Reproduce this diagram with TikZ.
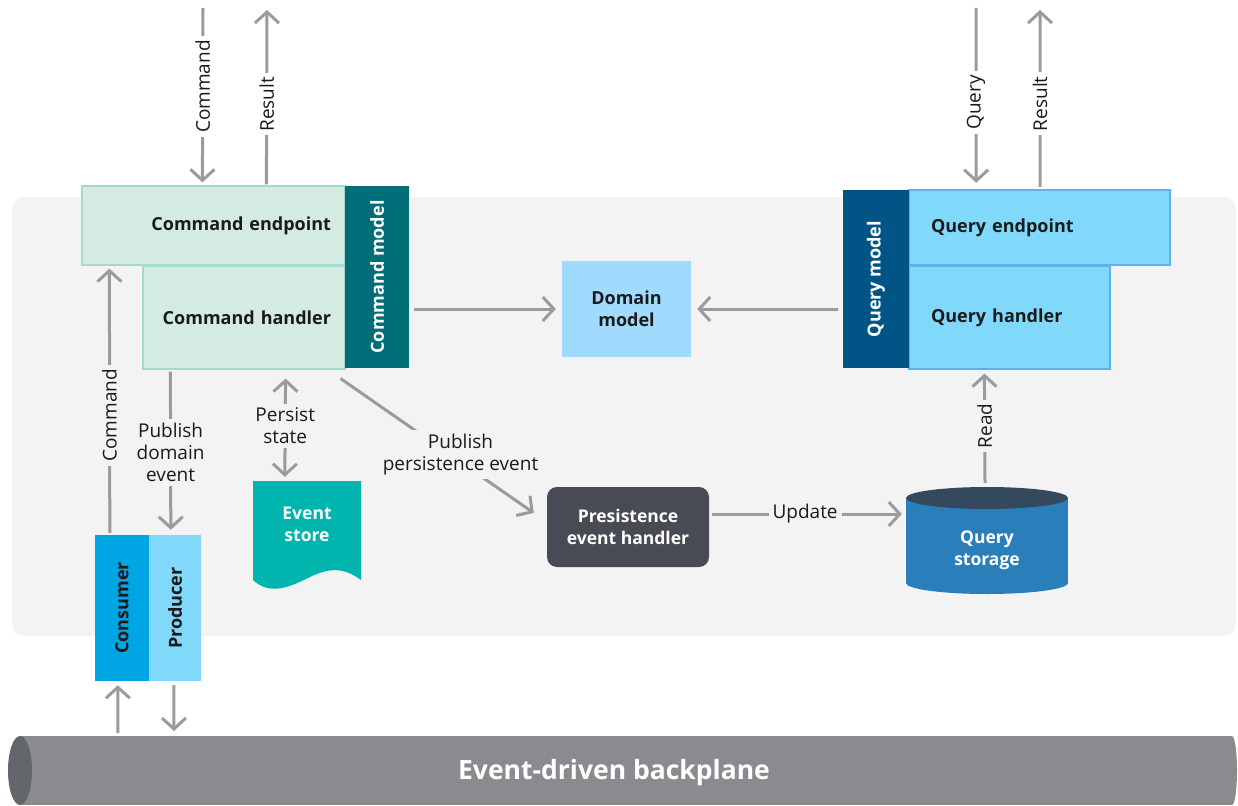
\documentclass[tikz,border=0pt]{standalone}
\usepackage{fontspec}
\setmainfont{Open Sans}
\usetikzlibrary{arrows.meta,calc}

\definecolor{panel}{HTML}{F3F3F3}
\definecolor{ink}{HTML}{1A1A1A}
\definecolor{wire}{HTML}{9B9B9E}
\definecolor{cmdfill}{HTML}{D3EBE3}
\definecolor{cmdline}{HTML}{A3DAD0}
\definecolor{cmdmodel}{HTML}{006E78}
\definecolor{qryfill}{HTML}{80D8FA}
\definecolor{qryline}{HTML}{5AB4EB}
\definecolor{qrymodel}{HTML}{005486}
\definecolor{domfill}{HTML}{A0DBFD}
\definecolor{consfill}{HTML}{00A5E4}
\definecolor{storefill}{HTML}{00B5AD}
\definecolor{handlerfill}{HTML}{484B54}
\definecolor{qsbody}{HTML}{2A7FBA}
\definecolor{qstop}{HTML}{34495E}
\definecolor{bpbody}{HTML}{898B8F}
\definecolor{bpend}{HTML}{63666B}

\newcommand\lblfont{\fontsize{19}{22}\selectfont}
\newcommand\ttlfont{\fontsize{18}{22}\selectfont\bfseries}
\newcommand\whitefont{\fontsize{17.5}{22}\selectfont\bfseries}

\begin{document}
\begin{tikzpicture}[x=1pt,y=-1pt,
  box/.style={rectangle, inner ysep=0pt, font=\ttlfont, text=ink},
  cbox/.style={box, fill=cmdfill, draw=cmdline, line width=1.2pt, inner xsep=14pt},
  qbox/.style={box, fill=qryfill, draw=qryline, line width=1.2pt, inner xsep=22pt},
  modelbox/.style={box, text=white, inner sep=0pt},
  conn/.style={draw=wire, line width=3pt, -{Straight Barb[length=11pt,width=24pt]}},
  lbl/.style={fill=panel, inner sep=4pt, font=\lblfont, text=ink, align=center},
  vlbl/.style={lbl, rotate=90},
]
\useasboundingbox (0,0) rectangle (1238,805);

% shared background panel
\fill[panel, rounded corners=12pt] (12,197) rectangle (1236,636);

% ---- command side ----
\node[cbox, minimum width=263pt, minimum height=79pt, text width=235pt, align=right]
  (ce) at (213.5,225.5) {Command endpoint};
\node[cbox, minimum width=202pt, minimum height=103pt, text width=174pt, align=right]
  (ch) at (244,317.5) {Command handler};
\node[modelbox, fill=cmdmodel, minimum width=64pt, minimum height=182pt]
  (cm) at (377,277) {\rotatebox{90}{Command model}};

% ---- query side ----
\node[qbox, minimum width=261pt, minimum height=75pt, text width=217pt, align=left]
  (qe) at (1039.5,227.5) {Query endpoint};
\node[qbox, minimum width=201pt, minimum height=103pt, text width=157pt, align=left]
  (qh) at (1009.5,317.5) {Query handler};
\node[modelbox, fill=qrymodel, minimum width=66pt, minimum height=178pt]
  (qm) at (876,279) {\rotatebox{90}{Query model}};

% ---- domain model ----
\node[box, fill=domfill, minimum width=129pt, minimum height=96pt, align=center]
  (dm) at (626.5,309) {Domain\\model};

% ---- event store (document shape) ----
\fill[storefill] (253,481) -- (361,481) -- (361,580)
  .. controls (345,568) and (330,567) .. (310,577)
  .. controls (290,587) and (270,596) .. (253,580) -- cycle;
\node[box, text=white, font=\whitefont, minimum width=108pt, minimum height=87pt, align=center]
  (es) at (307,524.5) {Event\\store};

% ---- consumer / producer ----
\node[box, fill=consfill, minimum width=54pt, minimum height=146pt, inner sep=0pt]
  (cons) at (122,608) {\rotatebox{90}{Consumer}};
\node[box, fill=qryfill, minimum width=52pt, minimum height=146pt, inner sep=0pt]
  (prod) at (175,608) {\rotatebox{90}{Producer}};

% ---- persistence event handler ----
\node[box, fill=handlerfill, rounded corners=10pt, text=white, font=\whitefont,
      minimum width=162pt, minimum height=80pt, align=center]
  (peh) at (628,527) {Presistence\\event handler};

% ---- query storage (cylinder) ----
\fill[qsbody] (906,498) rectangle (1068,583);
\fill[qsbody] (987,583) ellipse [x radius=81, y radius=11];
\fill[qstop] (987,498) ellipse [x radius=81, y radius=11];
\node[box, text=white, font=\whitefont, minimum width=162pt, minimum height=126pt, align=center]
  (qs) at (987,550) {Query\\storage};

% ---- event-driven backplane (horizontal cylinder) ----
\fill[bpbody] (20,736) rectangle (1232,805);
\fill[bpbody] (1232,770.5) ellipse [x radius=5, y radius=34.5];
\fill[bpend] (20,770.5) ellipse [x radius=12, y radius=34.5];
\node[font=\fontsize{26.5}{30}\selectfont\bfseries, text=white] (bp) at (614,773) {Event-driven backplane};

% ---- free ends of external connectors ----
\coordinate (cmdin) at (203,8);
\coordinate (cmdout) at (267,10);
\coordinate (qryin) at (976,8);
\coordinate (qryout) at (1040,10);
\coordinate (busin) at (118,733);
\coordinate (busout) at (174,731);

% ---- connectors ----
\draw[conn] (cmdin) -- node[vlbl, fill=white, pos=0.45] {Command} ($(ce.north west)+(121,-3)$);
\draw[conn] ($(ce.north west)+(185,-1)$) -- node[vlbl, fill=white, pos=0.46] {Result} (cmdout);
\draw[conn] (qryin) -- node[vlbl, fill=white, pos=0.54] {Query} ($(qm.north east)+(67,-7)$);
\draw[conn] ($(qm.north east)+(131,-3)$) -- node[vlbl, fill=white, pos=0.47] {Result} (qryout);

\draw[conn] ($(cons.north west)+(15,-2)$) -- node[vlbl, pos=0.445] {Command} ($(ce.south west)+(28,3)$);
\draw[conn] ($(ch.south west)+(28,2)$) -- node[lbl, pos=0.51] {Publish\\domain\\event} ($(prod.north west)+(22,-5)$);
\draw[conn, {Straight Barb[length=11pt,width=24pt]}-{Straight Barb[length=11pt,width=24pt]}]
  ($(ch.south east)+(-60,9)$) -- node[lbl, pos=0.48] {Persist\\state} ($(es.north west)+(32,-4)$);
\draw[conn] ($(ch.south east)+(-5,9)$) -- node[lbl, pos=0.6, xshift=4pt, yshift=5pt] {Publish\\persistence event} ($(peh.west)+(-13,-14)$);

\draw[conn] ($(cm.east)+(5,32)$) -- ($(dm.west)+(-6,0)$);
\draw[conn] ($(qm.west)+(-5,30)$) -- ($(dm.east)+(6,0)$);

\draw[conn] ($(peh.east)+(3,-13)$) -- node[lbl, pos=0.49] {Update} ($(qs.west)+(-4,-36)$);
\draw[conn] ($(qs.north)+(-2,-4)$) -- node[vlbl, pos=0.52] {Read} ($(qh.south west)+(76,4)$);

\draw[conn] (busin) -- ($(cons.south west)+(23,4)$);
\draw[conn] ($(prod.south west)+(25,4)$) -- (busout);
\end{tikzpicture}
\end{document}
